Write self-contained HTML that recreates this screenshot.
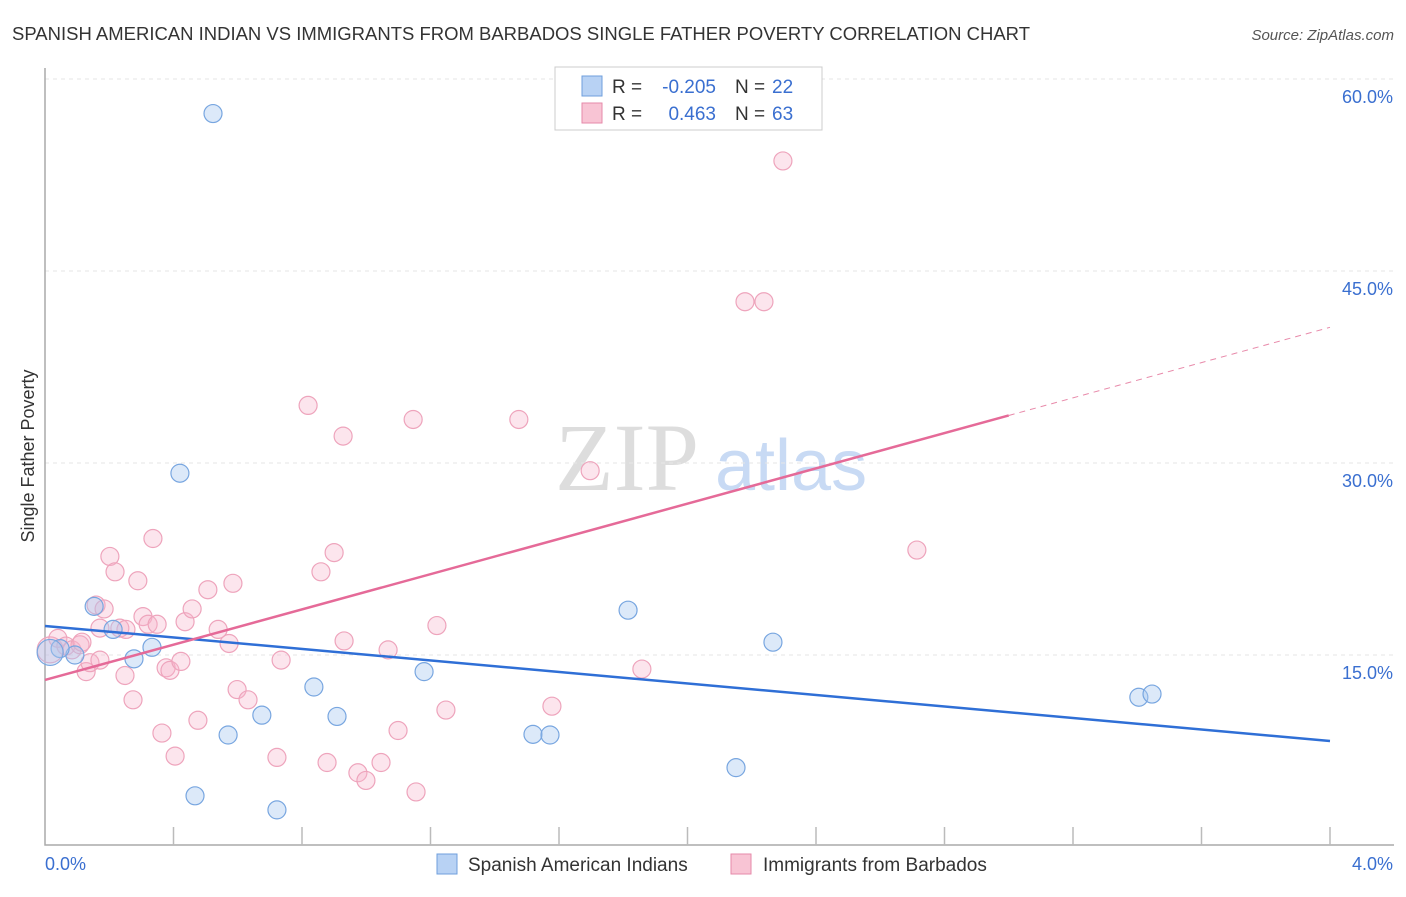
<!DOCTYPE html>
<html><head><meta charset="utf-8"><style>
body{margin:0;background:#fff;font-family:"Liberation Sans",sans-serif;}
</style></head><body>
<svg id="c" width="1406" height="892" xmlns="http://www.w3.org/2000/svg">
<text x="12" y="40" font-size="18" fill="#333" textLength="1018" lengthAdjust="spacingAndGlyphs">SPANISH AMERICAN INDIAN VS IMMIGRANTS FROM BARBADOS SINGLE FATHER POVERTY CORRELATION CHART</text>
<text x="1394" y="40" font-size="15" fill="#555" font-style="italic" text-anchor="end">Source: ZipAtlas.com</text>
<text x="555" y="490" font-size="96" fill="#ddd" font-family="Liberation Serif,serif">ZIP</text>
<text x="715" y="490" font-size="72" fill="#c8daf4">atlas</text>
<text transform="translate(34,456) rotate(-90)" font-size="18" fill="#333" text-anchor="middle">Single Father Poverty</text>
<g id="grid"></g><g id="marks"></g>
<g>
<rect x="555" y="67" width="267" height="63" fill="#fff" stroke="#ccc"/>
<rect x="582" y="76" width="20" height="20" fill="#b8d2f4" stroke="#6f9fdc"/>
<rect x="582" y="103" width="20" height="20" fill="#f8c4d4" stroke="#e68aaa"/>
<text x="612" y="93" font-size="19" fill="#333">R =</text>
<text x="716" y="93" font-size="19" fill="#3a6fd0" text-anchor="end">-0.205</text>
<text x="735" y="93" font-size="19" fill="#333">N =</text>
<text x="772" y="93" font-size="19" fill="#3a6fd0">22</text>
<text x="612" y="120" font-size="19" fill="#333">R =</text>
<text x="716" y="120" font-size="19" fill="#3a6fd0" text-anchor="end">0.463</text>
<text x="735" y="120" font-size="19" fill="#333">N =</text>
<text x="772" y="120" font-size="19" fill="#3a6fd0">63</text>
</g>
<g>
<rect x="437" y="854" width="20" height="20" fill="#b8d2f4" stroke="#6f9fdc"/>
<text x="468" y="871" font-size="19" fill="#333">Spanish American Indians</text>
<rect x="731" y="854" width="20" height="20" fill="#f8c4d4" stroke="#e68aaa"/>
<text x="763" y="871" font-size="19" fill="#333">Immigrants from Barbados</text>
</g>
</svg>
<script>
const blueX=[0.523,0.420,0.153,0.212,0.333,0.277,0.093,0.047,0.016,0.837,0.675,0.909,0.570,0.467,0.722,1.180,1.519,1.572,1.815,2.266,2.151,3.405,3.446];
const blueY=[57.3,29.2,18.8,17.0,15.6,14.7,15.0,15.5,15.2,12.5,10.3,10.2,8.75,4.0,2.9,13.7,8.8,8.75,18.5,16.0,6.2,11.7,11.95];
const pinkX=[0.016,0.040,0.065,0.084,0.109,0.115,0.128,0.140,0.159,0.184,0.171,0.202,0.218,0.233,0.252,0.249,0.274,0.289,0.305,0.321,0.336,0.349,0.364,0.377,0.389,0.405,0.423,0.436,0.458,0.476,0.507,0.539,0.573,0.585,0.598,0.632,0.722,0.735,0.819,0.859,0.878,0.900,0.928,0.931,0.974,0.999,1.046,1.068,1.099,1.146,1.155,1.220,1.248,1.475,1.578,1.697,1.858,2.179,2.238,2.297,2.714,0.171];
const pinkY=[15.4,16.3,15.7,15.4,15.8,16.0,13.7,14.4,18.9,18.6,17.1,22.7,21.5,17.1,17.0,13.4,11.5,20.8,18.0,17.4,24.1,17.4,8.9,14.0,13.8,7.1,14.5,17.6,18.6,9.9,20.1,17.0,15.9,20.6,12.3,11.5,7.0,14.6,34.5,21.5,6.6,23.0,32.1,16.1,5.8,5.2,6.6,15.4,9.1,33.4,4.3,17.3,10.7,33.4,11.0,29.4,13.9,42.6,42.6,53.6,23.2,14.6];
const yTicks=[15,30,45,60];
const yTickLabels=["15.0%","30.0%","45.0%","60.0%"];
const blueTrend=[17.27,8.28];
const pinkTrend=[13.05,40.6];
const pinkSolidEnd=3.0;
const NS="http://www.w3.org/2000/svg";
const sx=v=>45+v*321.25, sy=v=>847-v*12.8;
function mk(p,t,a){const e=document.createElementNS(NS,t);for(const k in a)e.setAttribute(k,a[k]);p.appendChild(e);return e;}
const g=document.getElementById('grid'), m=document.getElementById('marks');
yTicks.forEach((t,i)=>{
 const l=mk(g,'line',{x1:45,x2:1394,y1:sy(t),y2:sy(t),stroke:'#e6e6e6','stroke-dasharray':'4,4'});
 
 
 const tx=mk(g,'text',{x:1393,y:sy(t)+24,'font-size':18,fill:'#3a6fd0','text-anchor':'end'});
 tx.textContent=yTickLabels[i];
 
 
});
const ax=mk(g,'path',{d:'M45,68 V845 H1394',fill:'none',stroke:'#aaa','stroke-width':1.5});


for(let i=1;i<=10;i++){const t=mk(g,'line',{x1:sx(i*0.4),x2:sx(i*0.4),y1:827,y2:845,stroke:'#bbb','stroke-width':1.5});
 
 }
[['0.0%',45,'start'],['4.0%',1393,'end']].forEach(d=>{const t=mk(g,'text',{x:d[1],y:870,'font-size':18,fill:'#3a6fd0','text-anchor':d[2]});t.textContent=d[0];
 
 });
pinkX.forEach((x,i)=>{const c=mk(m,'circle',{cx:sx(x),cy:sy(pinkY[i]),r:i==0?13:9,fill:'rgba(246,180,204,0.35)',stroke:'#eea4bc','stroke-width':1.2});
 
 });
blueX.forEach((x,i)=>{const c=mk(m,'circle',{cx:sx(x),cy:sy(blueY[i]),r:i==8?13:9,fill:'rgba(168,200,240,0.4)',stroke:'#78a6e0','stroke-width':1.2});
 
 });
const bl=mk(m,'line',{x1:sx(0),y1:sy(blueTrend[0]),x2:sx(4),y2:sy(blueTrend[1]),stroke:'#2f6fd6','stroke-width':2.5});


const py=x=>pinkTrend[0]+(pinkTrend[1]-pinkTrend[0])*x/4;
const pl=mk(m,'line',{x1:sx(0),y1:sy(py(0)),x2:sx(pinkSolidEnd),y2:sy(py(pinkSolidEnd)),stroke:'#e56a98','stroke-width':2.5});


const pd=mk(m,'line',{x1:sx(pinkSolidEnd),y1:sy(py(pinkSolidEnd)),x2:sx(4),y2:sy(py(4)),stroke:'#e88aaa','stroke-width':1,'stroke-dasharray':'6,5'});


</script>
</body></html>
